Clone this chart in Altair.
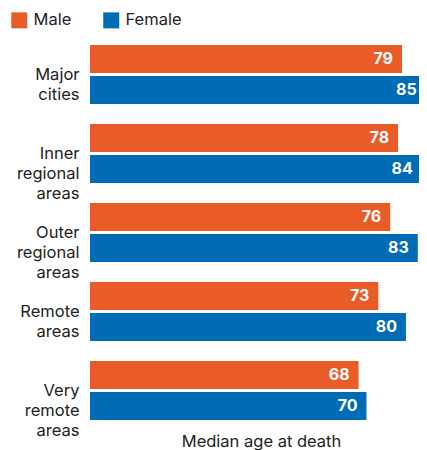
import altair as alt
import pandas as pd

regions = ["Major\ncities", "Inner\nregional\nareas", "Outer\nregional\nareas", "Remote\nareas", "Very\nremote\nareas"]
male = [79, 78, 76, 73, 68]
female = [85, 84, 83, 80, 70]
sexes = ["Male", "Female"]
colors = ["#E95C28", "#006CB5"]

rows = []
for r, m, f in zip(regions, male, female):
    rows.append({"region": r, "sex": "Male", "age": m})
    rows.append({"region": r, "sex": "Female", "age": f})
df = pd.DataFrame(rows)

FONT = "Inter"
FS = 16.5

y_enc = alt.Y("region:N", sort=regions, title=None,
              scale=alt.Scale(paddingInner=0.253, paddingOuter=0.1265),
              axis=alt.Axis(ticks=False, domain=False, labelPadding=11,
                            labelFontSize=FS, labelFont=FONT, labelColor="#222222",
                            labelLineHeight=20, labelExpr="split(datum.label, '\\n')",
                            labelAlign="right", labelBaseline="middle"))
yoff = alt.YOffset("sex:N", sort=sexes, scale=alt.Scale(paddingInner=0.1, paddingOuter=0))
x_enc = alt.X("age:Q", scale=alt.Scale(domain=[0, 83.3], nice=False, zero=True),
              title="Median age at death",
              axis=alt.Axis(labels=False, ticks=False, domain=False, grid=False,
                            titleFontSize=FS, titleFont=FONT, titleFontWeight="normal",
                            titleColor="#222222", titlePadding=3, titleX=171))

bars = alt.Chart(df).mark_bar(clip=True).encode(
    x=x_enc, y=y_enc, yOffset=yoff,
    color=alt.Color("sex:N", sort=sexes, scale=alt.Scale(domain=sexes, range=colors),
                    legend=alt.Legend(title=None, orient="none", direction="horizontal",
                                      legendX=-79, legendY=-23, symbolType="square",
                                      symbolSize=256, symbolStrokeWidth=0, symbolOpacity=1,
                                      labelFontSize=FS, labelFont=FONT, labelColor="#222222",
                                      columnPadding=31, labelOffset=6))
)

text = alt.Chart(df).mark_text(align="right", baseline="middle", dx=-9, color="white",
                               fontWeight="bold", fontSize=16, font=FONT).encode(
    x="age:Q", y=alt.Y("region:N", sort=regions), yOffset=alt.YOffset("sex:N", sort=sexes),
    text="age:Q"
)

chart = (bars + text).properties(
    width=329, height=395,
    padding={"left": 82, "top": 27, "right": 0, "bottom": 30},
    autosize=alt.AutoSizeParams(type="none"),
).configure_view(stroke=None)
chart.save("out.html", embed_options={"renderer": "svg", "actions": False})
